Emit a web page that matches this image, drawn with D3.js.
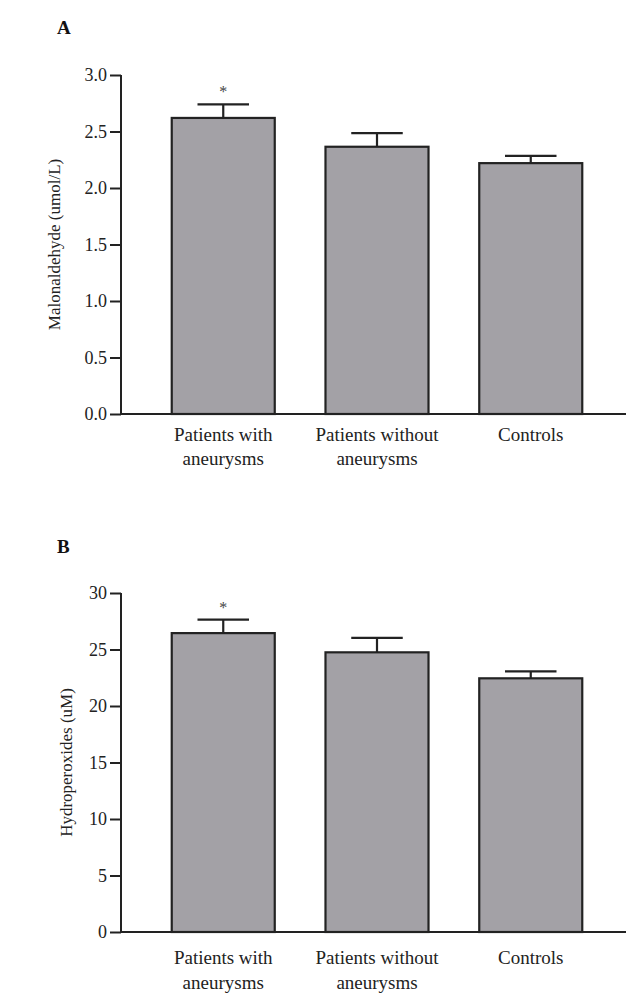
<!DOCTYPE html>
<html>
<head>
<meta charset="utf-8">
<script src="https://cdn.jsdelivr.net/npm/d3@7/dist/d3.min.js"></script>
<style>
  html, body { margin: 0; padding: 0; background: #fff; }
  svg { display: block; font-family: "Liberation Serif", "Times New Roman", serif; }
  .tick line, .domain { stroke: #222; stroke-width: 2; }
</style>
</head>
<body>
<div id="chart"></div>
<script>
/* ---------- Data ---------- */
const groups = [["Patients with", "aneurysms"], ["Patients without", "aneurysms"], ["Controls"]];
const significant = [true, false, false];

const mdaMean = [2.62, 2.365, 2.22];
const mdaErr  = [0.12, 0.12, 0.065];
const mdaTicks = [0, 0.5, 1.0, 1.5, 2.0, 2.5, 3.0];

const hpMean = [26.45, 24.75, 22.45];
const hpErr  = [1.2, 1.27, 0.62];
const hpTicks = [0, 5, 10, 15, 20, 25, 30];

/* ---------- Layout ---------- */
const W = 626, H = 993;
const SERIF = "Liberation Serif, Times New Roman, serif";
const svg = d3.select("#chart").append("svg")
  .attr("width", W).attr("height", H)
  .attr("viewBox", `0 0 ${W} ${H}`);

const x = d3.scaleBand()
  .domain(d3.range(groups.length))
  .range([121, 633])
  .paddingInner(0.33)
  .paddingOuter(0.33);

function panel(opts){
  const { letter, letterY, top, bottom, mean, err, ticks, fmt, title, titleX, labelDy } = opts;
  const g = svg.append("g");

  const y = d3.scaleLinear()
    .domain([0, d3.max(ticks)])
    .range([bottom, top]);

  // panel letter
  g.append("text")
    .attr("x", 57).attr("y", letterY)
    .attr("font-size", 19).attr("font-weight", "bold").attr("fill", "#111")
    .text(letter);

  // bars
  g.selectAll("rect.bar")
    .data(mean)
    .join("rect")
      .attr("class", "bar")
      .attr("x", (d, i) => x(i))
      .attr("y", d => y(d))
      .attr("width", x.bandwidth())
      .attr("height", d => y(0) - y(d))
      .attr("fill", "#a3a1a6")
      .attr("stroke", "#222")
      .attr("stroke-width", 2.2);

  // error bars (upper only)
  const cap = x.bandwidth() / 4;
  const eb = g.selectAll("g.err")
    .data(mean)
    .join("g")
      .attr("class", "err")
      .attr("stroke", "#222")
      .attr("stroke-width", 2.2);
  eb.append("line")
    .attr("x1", (d, i) => x(i) + x.bandwidth() / 2)
    .attr("x2", (d, i) => x(i) + x.bandwidth() / 2)
    .attr("y1", d => y(d))
    .attr("y2", (d, i) => y(d + err[i]));
  eb.append("line")
    .attr("x1", (d, i) => x(i) + x.bandwidth() / 2 - cap)
    .attr("x2", (d, i) => x(i) + x.bandwidth() / 2 + cap)
    .attr("y1", (d, i) => y(d + err[i]))
    .attr("y2", (d, i) => y(d + err[i]));

  // significance marks
  g.selectAll("text.sig")
    .data(mean.map((d, i) => ({ d, i })).filter(o => significant[o.i]))
    .join("text")
      .attr("class", "sig")
      .attr("x", o => x(o.i) + x.bandwidth() / 2)
      .attr("y", o => y(o.d + err[o.i]) - 7)
      .attr("text-anchor", "middle")
      .attr("font-size", 16).attr("fill", "#444")
      .text("*");

  // y axis
  g.append("g")
    .attr("transform", `translate(${x.range()[0]},0)`)
    .call(d3.axisLeft(y).tickValues(ticks).tickFormat(fmt).tickSize(11).tickPadding(3))
    .call(a => a.attr("font-family", SERIF).attr("font-size", 18))
    .call(a => a.selectAll(".tick text").attr("font-family", SERIF).attr("fill", "#222"))
    .call(a => a.select(".domain").attr("d", `M0,${y(0)}V${top}`));

  // x axis line
  g.append("line")
    .attr("x1", x.range()[0] - 1).attr("x2", W)
    .attr("y1", y(0)).attr("y2", y(0))
    .attr("stroke", "#222").attr("stroke-width", 2);

  // category labels
  const lab = g.selectAll("text.cat")
    .data(groups)
    .join("text")
      .attr("class", "cat")
      .attr("text-anchor", "middle")
      .attr("font-size", 19).attr("fill", "#222")
      .attr("transform", (d, i) => `translate(${x(i) + x.bandwidth() / 2},${y(0) + labelDy[0]})`);
  lab.selectAll("tspan")
    .data(d => d)
    .join("tspan")
      .attr("x", 0)
      .attr("dy", (d, j) => j ? labelDy[1] : 0)
      .text(d => d);

  // y title
  g.append("text")
    .attr("transform", `translate(${titleX},${(top + bottom) / 2}) rotate(-90)`)
    .attr("text-anchor", "middle")
    .attr("font-size", 17).attr("fill", "#222")
    .text(title);
}

panel({
  letter: "A", letterY: 34, top: 75, bottom: 414,
  mean: mdaMean, err: mdaErr, ticks: mdaTicks, fmt: d3.format(".1f"),
  title: "Malonaldehyde (umol/L)", titleX: 60, labelDy: [27, 24]
});

panel({
  letter: "B", letterY: 553, top: 593, bottom: 932,
  mean: hpMean, err: hpErr, ticks: hpTicks, fmt: d3.format("d"),
  title: "Hydroperoxides (uM)", titleX: 72, labelDy: [32, 25]
});
</script>
</body>
</html>
